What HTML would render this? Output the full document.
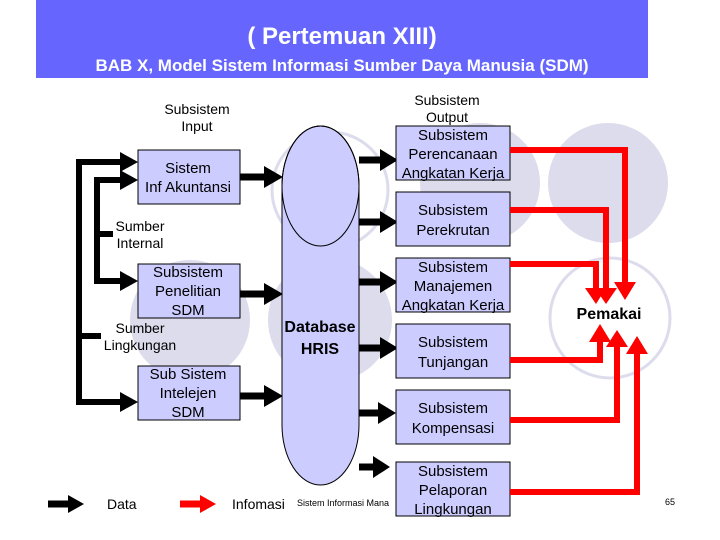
<!DOCTYPE html>
<html><head><meta charset="utf-8"><style>
html,body{margin:0;padding:0;background:#fff;}
svg{display:block;font-family:"Liberation Sans",Arial,sans-serif;}
</style></head><body>
<svg width="720" height="540" viewBox="0 0 720 540" xmlns="http://www.w3.org/2000/svg">
<defs>
<marker id="bk" markerWidth="4" markerHeight="4" refX="2.2" refY="2" orient="auto" markerUnits="strokeWidth"><path d="M0,0 L2.6,2 L0,4 z" fill="#000"/></marker>
<marker id="rd" markerWidth="4" markerHeight="4" refX="2.2" refY="2" orient="auto" markerUnits="strokeWidth"><path d="M0,0 L2.6,2 L0,4 z" fill="#f00"/></marker>
</defs>
<!-- background circles -->
<circle cx="190" cy="320" r="60" fill="#dcdcec"/>
<circle cx="330" cy="320" r="62" fill="#dcdcec"/>
<circle cx="480" cy="183" r="60" fill="#dcdcec"/>
<circle cx="608" cy="183" r="60" fill="#dcdcec"/>
<circle cx="330" cy="190" r="58" fill="none" stroke="#dcdcec" stroke-width="3"/>
<circle cx="610" cy="318" r="60" fill="none" stroke="#dcdcec" stroke-width="3"/>
<!-- header -->
<rect x="36" y="0" width="612" height="78" fill="#6666ff"/>
<text x="342" y="44" font-size="24" font-weight="bold" fill="#fff" text-anchor="middle">( Pertemuan XIII)</text>
<text x="342" y="71" font-size="17" font-weight="bold" fill="#fff" text-anchor="middle">BAB X, Model Sistem Informasi Sumber Daya Manusia (SDM)</text>
<!-- labels -->
<g font-size="14" fill="#000" text-anchor="middle">
<text x="197" y="114">Subsistem</text><text x="197" y="131">Input</text>
<text x="447" y="105">Subsistem</text><text x="447" y="122">Output</text>
<text x="140" y="231">Sumber</text><text x="140" y="248">Internal</text>
<text x="140" y="333">Sumber</text><text x="140" y="350">Lingkungan</text>
</g>
<!-- left connectors -->
<g stroke="#000" stroke-width="6" fill="none">
<polyline points="126,162 79,162 79,402 126,402" />
<polyline points="126,180 97,180 97,281 126,281" />
<line x1="97" y1="234" x2="113" y2="234"/>
<line x1="79" y1="336" x2="101" y2="336"/>
</g>
<g fill="#000">
<path d="M120,152 L138,162 L120,172z"/>
<path d="M120,170 L138,180 L120,190z"/>
<path d="M120,271 L138,281 L120,291z"/>
<path d="M120,392 L138,402 L120,412z"/>
</g>
<!-- left boxes -->
<g fill="#ccccff" stroke="#000" stroke-width="1">
<rect x="138" y="150" width="102" height="54"/>
<rect x="138" y="264" width="102" height="54"/>
<rect x="138" y="366" width="102" height="54"/>
</g>
<g font-size="15" fill="#000" text-anchor="middle">
<text x="188" y="173">Sistem</text><text x="188" y="192">Inf Akuntansi</text>
<text x="188" y="277">Subsistem</text><text x="188" y="296">Penelitian</text><text x="188" y="315">SDM</text>
<text x="188" y="379">Sub Sistem</text><text x="188" y="398">Intelejen</text><text x="188" y="417">SDM</text>
</g>
<!-- left to db arrows -->
<g stroke="#000" stroke-width="7"><line x1="240" y1="177" x2="268" y2="177"/><line x1="240" y1="294" x2="268" y2="294"/><line x1="240" y1="396" x2="268" y2="396"/></g>
<g fill="#000"><path d="M264,166 L283,177 L264,188z"/><path d="M264,283 L283,294 L264,305z"/><path d="M264,385 L283,396 L264,407z"/></g>
<!-- database -->
<rect x="282" y="126" width="77" height="359" rx="38.5" ry="60" fill="#ccccff" stroke="#000" stroke-width="1"/>
<ellipse cx="320.5" cy="186" rx="38.5" ry="60" fill="none" stroke="#000" stroke-width="1"/>
<text x="320" y="332" font-size="16" font-weight="bold" text-anchor="middle">Database</text>
<text x="320" y="354" font-size="16" font-weight="bold" text-anchor="middle">HRIS</text>
<!-- db to right arrows -->
<g stroke="#000" stroke-width="7">
<line x1="359" y1="160" x2="384" y2="160"/><line x1="359" y1="222" x2="384" y2="222"/><line x1="359" y1="282" x2="384" y2="282"/>
<line x1="359" y1="348" x2="384" y2="348"/><line x1="359" y1="413" x2="384" y2="413"/><line x1="359" y1="467" x2="380" y2="467"/>
</g>
<g fill="#000">
<path d="M380,149 L398,160 L380,171z"/><path d="M380,211 L398,222 L380,233z"/><path d="M380,271 L398,282 L380,293z"/>
<path d="M380,337 L398,348 L380,359z"/><path d="M378,402 L396,413 L378,424z"/><path d="M373,456 L390,467 L373,478z"/>
</g>
<!-- small footer text -->
<text x="297" y="506" font-size="9" fill="#000">Sistem Informasi Mana</text>
<!-- right boxes -->
<g fill="#ccccff" stroke="#000" stroke-width="1">
<rect x="396" y="126" width="114" height="54"/>
<rect x="396" y="192" width="114" height="54"/>
<rect x="396" y="258" width="114" height="54"/>
<rect x="396" y="324" width="114" height="54"/>
<rect x="396" y="390" width="114" height="54"/>
<rect x="396" y="462" width="114" height="54"/>
</g>
<g font-size="15" fill="#000" text-anchor="middle">
<text x="453" y="140">Subsistem</text><text x="453" y="159">Perencanaan</text><text x="453" y="178">Angkatan Kerja</text>
<text x="453" y="215">Subsistem</text><text x="453" y="235">Perekrutan</text>
<text x="453" y="272">Subsistem</text><text x="453" y="291">Manajemen</text><text x="453" y="310">Angkatan Kerja</text>
<text x="453" y="347">Subsistem</text><text x="453" y="367">Tunjangan</text>
<text x="453" y="413">Subsistem</text><text x="453" y="433">Kompensasi</text>
<text x="453" y="476">Subsistem</text><text x="453" y="495">Pelaporan</text><text x="453" y="514">Lingkungan</text>
</g>
<!-- red connectors -->
<g stroke="#f00" stroke-width="6" fill="none">
<polyline points="510,150 625,150 625,290"/>
<polyline points="510,210 606,210 606,294"/>
<polyline points="510,264 596,264 596,294"/>
<polyline points="510,360 600,360 600,338"/>
<polyline points="510,420 617,420 617,343"/>
<polyline points="510,492 637,492 637,350"/>
</g>
<g fill="#f00">
<path d="M614,282 L636,282 L625,300z"/>
<path d="M595,288 L617,288 L606,304z"/>
<path d="M585,288 L606,288 L596,304z"/>
<path d="M589,342 L611,342 L600,324z"/>
<path d="M606,347 L628,347 L617,330z"/>
<path d="M626,354 L648,354 L637,336z"/>
</g>
<text x="609" y="319" font-size="16" font-weight="bold" text-anchor="middle">Pemakai</text>
<!-- legend -->
<line x1="48" y1="504" x2="70" y2="504" stroke="#000" stroke-width="7"/>
<path d="M68,495 L84,504 L68,513z" fill="#000"/>
<text x="107" y="509" font-size="14">Data</text>
<line x1="180" y1="504" x2="202" y2="504" stroke="#f00" stroke-width="7"/>
<path d="M200,495 L216,504 L200,513z" fill="#f00"/>
<text x="232" y="509" font-size="14">Infomasi</text>
<text x="665" y="505" font-size="9">65</text>
</svg>
</body></html>
